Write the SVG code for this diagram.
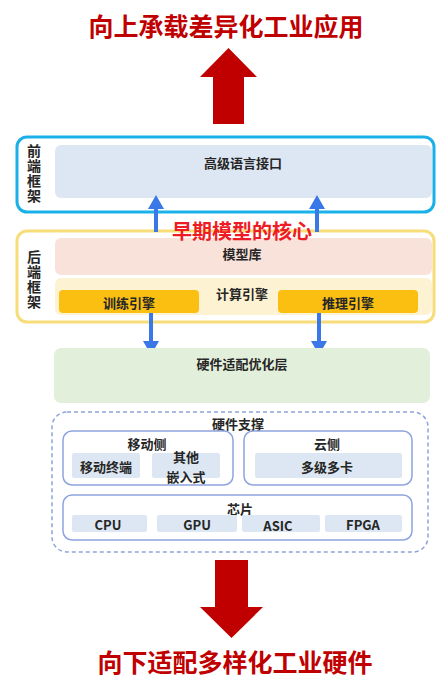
<svg xmlns="http://www.w3.org/2000/svg" width="436" height="679" viewBox="0 0 436 679">
<style>
text{font-family:"Noto Sans CJK SC","Noto Sans",sans-serif;font-weight:bold;text-anchor:middle;dominant-baseline:central}
.big{font-size:25px;fill:#c00000}
.lbl{font-size:13px;fill:#262626}
.side{font-size:14px;fill:#262626;writing-mode:vertical-rl;letter-spacing:1px}
.red{fill:#c00000}
.blue{fill:#3b78e7}
.bl{stroke:#3b78e7;stroke-width:4}
.lb{fill:#dde7f3}
.hw{fill:#fff;stroke:#8ea4e0;stroke-width:1.5}
</style>
<rect width="436" height="679" fill="#fff"/>
<g id="title-top"><text class="big" x="226" y="25">向上承载差异化工业应用</text></g>
<g id="arrow-top"><polygon class="red" points="213,124 213,77 200,77 228.5,48 257,77 244,77 244,124"/></g>
<g id="frontend">
<rect x="17" y="137" width="417" height="75" rx="10" fill="#fff" stroke="#1ab0e8" stroke-width="3"/>
<text class="side" x="34" y="174">前端框架</text>
<rect class="lb" x="55" y="145" width="377" height="53" rx="6"/>
<text class="lbl" x="243" y="162">高级语言接口</text>
</g>
<g id="backend">
<rect x="17" y="231" width="417" height="91" rx="10" fill="#fff" stroke="#f7dc7a" stroke-width="3"/>
<text class="side" x="34" y="280">后端框架</text>
<rect x="55" y="238" width="377" height="37" rx="6" fill="#f8e2da"/>
<text class="lbl" x="242" y="253">模型库</text>
<rect x="55" y="278" width="377" height="37" rx="6" fill="#fdf2d2"/>
<text class="lbl" x="242" y="293">计算引擎</text>
<rect x="59" y="290" width="140" height="23" rx="4" fill="#fbbf12"/>
<text class="lbl" x="129" y="302">训练引擎</text>
<rect x="278" y="290" width="140" height="23" rx="4" fill="#fbbf12"/>
<text class="lbl" x="348" y="302">推理引擎</text>
</g>
<g id="connectors">
<line class="bl" x1="156" y1="232" x2="156" y2="206"/>
<polygon class="blue" points="148,209 156,195 164,209"/>
<line class="bl" x1="317" y1="232" x2="317" y2="206"/>
<polygon class="blue" points="309,209 317,195 325,209"/>
<line class="bl" x1="151" y1="313" x2="151" y2="344"/>
<polygon class="blue" points="143,341 151,355 159,341"/>
<line class="bl" x1="319" y1="313" x2="319" y2="344"/>
<polygon class="blue" points="311,341 319,355 327,341"/>
</g>
<g id="core-label"><text x="242" y="230" style="font-size:20px;fill:#ee1c25">早期模型的核心</text></g>
<g id="hw-adapt">
<rect x="54" y="348" width="376" height="55" rx="7" fill="#e2efda"/>
<text class="lbl" x="242" y="363">硬件适配优化层</text>
</g>
<g id="hw-support">
<rect x="52" y="412" width="376" height="140" rx="15" fill="#fff" stroke="#8ea4d8" stroke-width="1.5" stroke-dasharray="4,3"/>
<text class="lbl" x="238" y="423">硬件支撑</text>
</g>
<g id="mobile">
<rect class="hw" x="63" y="431" width="170" height="54" rx="9"/>
<text class="lbl" x="147" y="443">移动侧</text>
<rect class="lb" x="72" y="453" width="68" height="25" rx="2"/>
<text class="lbl" x="106" y="466">移动终端</text>
<rect class="lb" x="152" y="453" width="68" height="25" rx="2"/>
<text class="lbl" x="186" y="456">其他</text>
<text class="lbl" x="186" y="476">嵌入式</text>
</g>
<g id="cloud">
<rect class="hw" x="244" y="431" width="168" height="54" rx="9"/>
<text class="lbl" x="327" y="443">云侧</text>
<rect class="lb" x="255" y="453" width="147" height="25" rx="2"/>
<text class="lbl" x="327" y="466">多级多卡</text>
</g>
<g id="chip">
<rect class="hw" x="63" y="495" width="349" height="45" rx="9"/>
<text class="lbl" x="240" y="508">芯片</text>
<rect class="lb" x="72" y="515" width="75" height="17" rx="2"/>
<text class="lbl" x="108" y="524">CPU</text>
<rect class="lb" x="157" y="515" width="80" height="17" rx="2"/>
<text class="lbl" x="197" y="524">GPU</text>
<rect class="lb" x="242" y="515" width="78" height="17" rx="2"/>
<text class="lbl" x="278" y="525">ASIC</text>
<rect class="lb" x="325" y="515" width="77" height="17" rx="2"/>
<text class="lbl" x="363" y="524">FPGA</text>
</g>
<g id="arrow-bottom"><polygon class="red" points="215,560 248,560 248,607 263,607 231.5,638 200,607 215,607"/></g>
<g id="title-bottom"><text class="big" x="235" y="661">向下适配多样化工业硬件</text></g>
</svg>
